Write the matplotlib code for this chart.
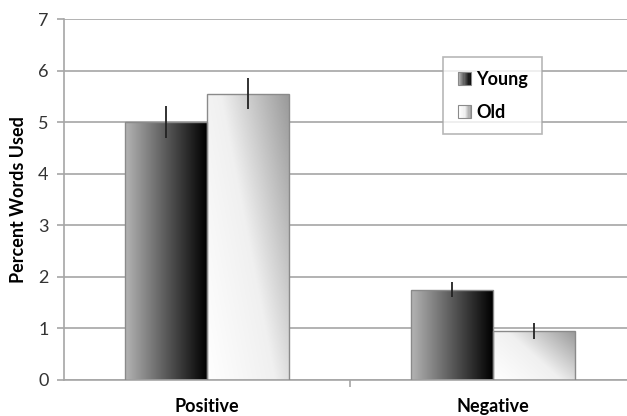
import numpy as np
import matplotlib
matplotlib.use("Agg")
import matplotlib.pyplot as plt
from matplotlib.patches import Rectangle
from matplotlib.legend_handler import HandlerBase
from matplotlib.colors import LinearSegmentedColormap

categories = ["Positive", "Negative"]
series = ["Young", "Old"]
young = [5.0, 1.75]
old = [5.55, 0.95]
young_err = [0.31, 0.15]
old_err = [0.30, 0.16]
yticks = [0, 1, 2, 3, 4, 5, 6, 7]

plt.rcParams['font.family'] = ['Lato', 'DejaVu Sans']

fig = plt.figure(figsize=(6.27, 4.16), dpi=100)
ax = fig.add_axes([64/627, 1-380/416, 1-64/627, (380-19)/416])

width = 0.285
x = np.arange(len(categories))

young_cmap = LinearSegmentedColormap.from_list("y", ["#b4b4b4", "#5a5a5a", "#000000"])
old_cmap = LinearSegmentedColormap.from_list("o", ["#ffffff", "#f0f0f0", "#9a9a9a"])

def grad_bar(xc, h, kind):
    left = xc - width/2
    rect = Rectangle((left, 0), width, h, facecolor="none", edgecolor="#8a8a8a", lw=1.0, zorder=3)
    ax.add_patch(rect)
    if kind == "young":
        g = np.tile(np.linspace(0, 1, 256), (2, 1))
        im = ax.imshow(g, cmap=young_cmap, extent=(left, left+width, 0, h), aspect="auto",
                       origin="lower", zorder=2, interpolation="bilinear")
    else:
        xx, yy = np.meshgrid(np.linspace(0, 1, 128), np.linspace(0, 1, 128))
        g = (xx*0.6 + (1-yy)*0.4)
        im = ax.imshow(g, cmap=old_cmap, extent=(left, left+width, 0, h), aspect="auto",
                       origin="upper", zorder=2, interpolation="bilinear")
    clip = Rectangle((left, 0), width, h, transform=ax.transData, facecolor="none", edgecolor="none")
    ax.add_patch(clip)
    im.set_clip_path(clip)

for i in range(len(categories)):
    grad_bar(x[i] - width/2, young[i], "young")
    grad_bar(x[i] + width/2, old[i], "old")

ax.errorbar(x - width/2, young, yerr=young_err, fmt="none", ecolor="#222222", elinewidth=1.3, capsize=0, zorder=4)
ax.errorbar(x + width/2, old, yerr=old_err, fmt="none", ecolor="#222222", elinewidth=1.3, capsize=0, zorder=4)

ax.set_xlim(-0.5, 1.4685)
ax.set_ylim(0, 7)
ax.set_yticks(yticks)
ax.yaxis.grid(True, color="#a6a6a6", lw=1.2, zorder=0)
ax.set_axisbelow(True)
ax.set_xticks([0.5], minor=True)
ax.set_xticks(x)
ax.set_xticklabels(categories, fontsize=13, fontweight="bold")
ax.tick_params(axis="x", which="major", length=0, pad=13)
ax.tick_params(axis="x", which="minor", length=5, color="#a6a6a6", width=1.2)
ax.tick_params(axis="y", length=5, color="#a6a6a6", width=1.2, labelsize=13, labelcolor="#333333", pad=6)
for s in ["top", "right"]:
    ax.spines[s].set_visible(False)
for s in ["left", "bottom"]:
    ax.spines[s].set_color("#a6a6a6")
    ax.spines[s].set_linewidth(1.2)
ax.set_ylabel("Percent Words Used", fontsize=13, fontweight="bold", labelpad=8)

class GradHandler(HandlerBase):
    def __init__(self, cmap):
        super().__init__()
        self.cmap = cmap
    def create_artists(self, legend, orig_handle, xdescent, ydescent, width, height, fontsize, trans):
        arts = []
        n = 10
        w = height * 1.0
        x0 = -xdescent + width - w
        for k in range(n):
            c = self.cmap((k + 0.5) / n)
            r = Rectangle((x0 + k*w/n, -ydescent), w/n, height, facecolor=c, edgecolor="none", transform=trans)
            arts.append(r)
        border = Rectangle((x0, -ydescent), w, height, facecolor="none", edgecolor="#8a8a8a", lw=0.8, transform=trans)
        arts.append(border)
        return arts

hy = Rectangle((0, 0), 1, 1)
ho = Rectangle((0, 0), 1, 1)
leg = ax.legend([hy, ho], series, handler_map={hy: GradHandler(young_cmap), ho: GradHandler(old_cmap)},
                loc="upper left", bbox_to_anchor=((443-64)/563, 1-(57-19)/361),
                prop={"weight": "bold", "size": 13}, frameon=True, fancybox=False,
                edgecolor="#a6a6a6", handlelength=0.8, handletextpad=0.3, labelspacing=0.9,
                borderpad=0.75, borderaxespad=0)
leg.get_frame().set_linewidth(1.2)

fig.savefig("out.png", dpi=100)
